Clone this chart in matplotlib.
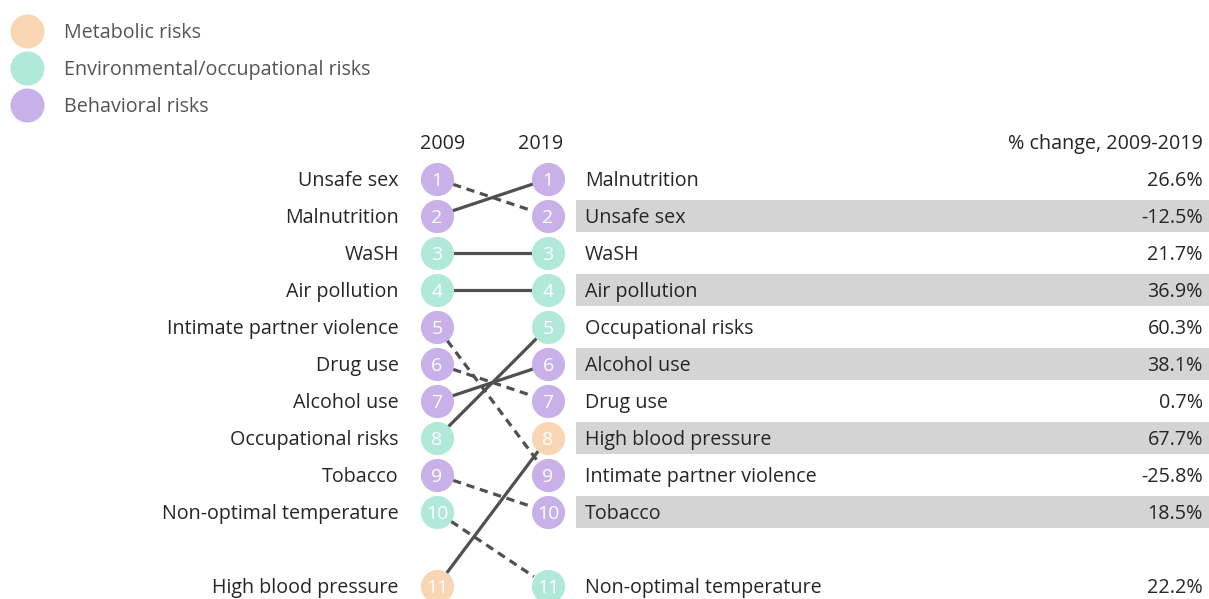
import matplotlib
matplotlib.use("Agg")
import matplotlib.pyplot as plt
import numpy as np

plt.rcParams['font.family'] = ['Open Sans', 'DejaVu Sans']

# ranks in 2009 and 2019
names_2009 = ["Unsafe sex", "Malnutrition", "WaSH", "Air pollution",
              "Intimate partner violence", "Drug use", "Alcohol use",
              "Occupational risks", "Tobacco", "Non-optimal temperature",
              "High blood pressure"]
names_2019 = ["Malnutrition", "Unsafe sex", "WaSH", "Air pollution",
              "Occupational risks", "Alcohol use", "Drug use",
              "High blood pressure", "Intimate partner violence", "Tobacco",
              "Non-optimal temperature"]
pct_change = [26.6, -12.5, 21.7, 36.9, 60.3, 38.1, 0.7, 67.7, -25.8, 18.5, 22.2]

category = {
    "Unsafe sex": "Behavioral risks", "Malnutrition": "Behavioral risks",
    "Intimate partner violence": "Behavioral risks", "Drug use": "Behavioral risks",
    "Alcohol use": "Behavioral risks", "Tobacco": "Behavioral risks",
    "WaSH": "Environmental/occupational risks",
    "Air pollution": "Environmental/occupational risks",
    "Occupational risks": "Environmental/occupational risks",
    "Non-optimal temperature": "Environmental/occupational risks",
    "High blood pressure": "Metabolic risks",
}
legend_items = ["Metabolic risks", "Environmental/occupational risks", "Behavioral risks"]
colors = {"Metabolic risks": "#f8d6b3",
          "Environmental/occupational risks": "#b0e8d9",
          "Behavioral risks": "#c8b0e8"}

# row position: rank 11 sits one row lower (gap)
def row(rank):
    return rank if rank <= 10 else rank + 1

x09, x19 = 437, 548
txt = "#262626"
fs = 14.2
dy = 0.05  # nudge text down to look centred

fig = plt.figure(figsize=(12.09, 5.99), dpi=100)
ax = fig.add_axes([0, 0, 1, 1])
ax.set_xlim(0, 1209)
ax.set_ylim(1 + 420 / 37, 1 - 179 / 37)
ax.axis("off")

# legend
for i, lab in enumerate(legend_items):
    y = -3 + i
    ax.scatter([27], [y], s=600, color=colors[lab], lw=0, zorder=3)
    ax.text(64, y + dy, lab, ha="left", va="center", fontsize=fs, color="#555555")

# headers
ax.text(x09 + 6, dy, "2009", ha="center", va="center", fontsize=fs, color=txt)
ax.text(x19 - 7, dy, "2019", ha="center", va="center", fontsize=fs, color=txt)
ax.text(1203, dy, "% change, 2009-2019", ha="right", va="center", fontsize=fs, color=txt)

# gray bands for even rows
for r in range(2, 11, 2):
    ax.add_patch(plt.Rectangle((576, row(r) - 0.445), 640, 0.89,
                               color="#d4d4d4", lw=0, zorder=0))

# connecting lines
rad = 17
for i, name in enumerate(names_2009):
    r0 = i + 1
    r1 = names_2019.index(name) + 1
    y0, y1 = row(r0), row(r1)
    p0 = ax.transData.transform((x09, y0))
    p1 = ax.transData.transform((x19, y1))
    d = (p1 - p0) / np.hypot(*(p1 - p0))
    a = ax.transData.inverted().transform(p0 + d * rad)
    b = ax.transData.inverted().transform(p1 - d * rad)
    ls = "-" if r1 <= r0 else (0, (2.6, 1.8))
    ax.plot([a[0], b[0]], [a[1], b[1]], color="#505050", lw=2.3, ls=ls, zorder=1)

# circles and labels
for i, name in enumerate(names_2009):
    y = row(i + 1)
    ax.scatter([x09], [y], s=570, color=colors[category[name]], lw=0, zorder=3)
    ax.text(x09, y + dy, str(i + 1), ha="center", va="center", fontsize=14, color="white", zorder=4)
    ax.text(399, y + dy, name, ha="right", va="center", fontsize=fs, color=txt)

for i, name in enumerate(names_2019):
    y = row(i + 1)
    ax.scatter([x19], [y], s=570, color=colors[category[name]], lw=0, zorder=3)
    ax.text(x19, y + dy, str(i + 1), ha="center", va="center", fontsize=14, color="white", zorder=4)
    ax.text(585, y + dy, name, ha="left", va="center", fontsize=fs, color=txt)
    ax.text(1203, y + dy, f"{pct_change[i]:.1f}%", ha="right", va="center", fontsize=fs, color=txt)

fig.savefig("out.png", dpi=100)
